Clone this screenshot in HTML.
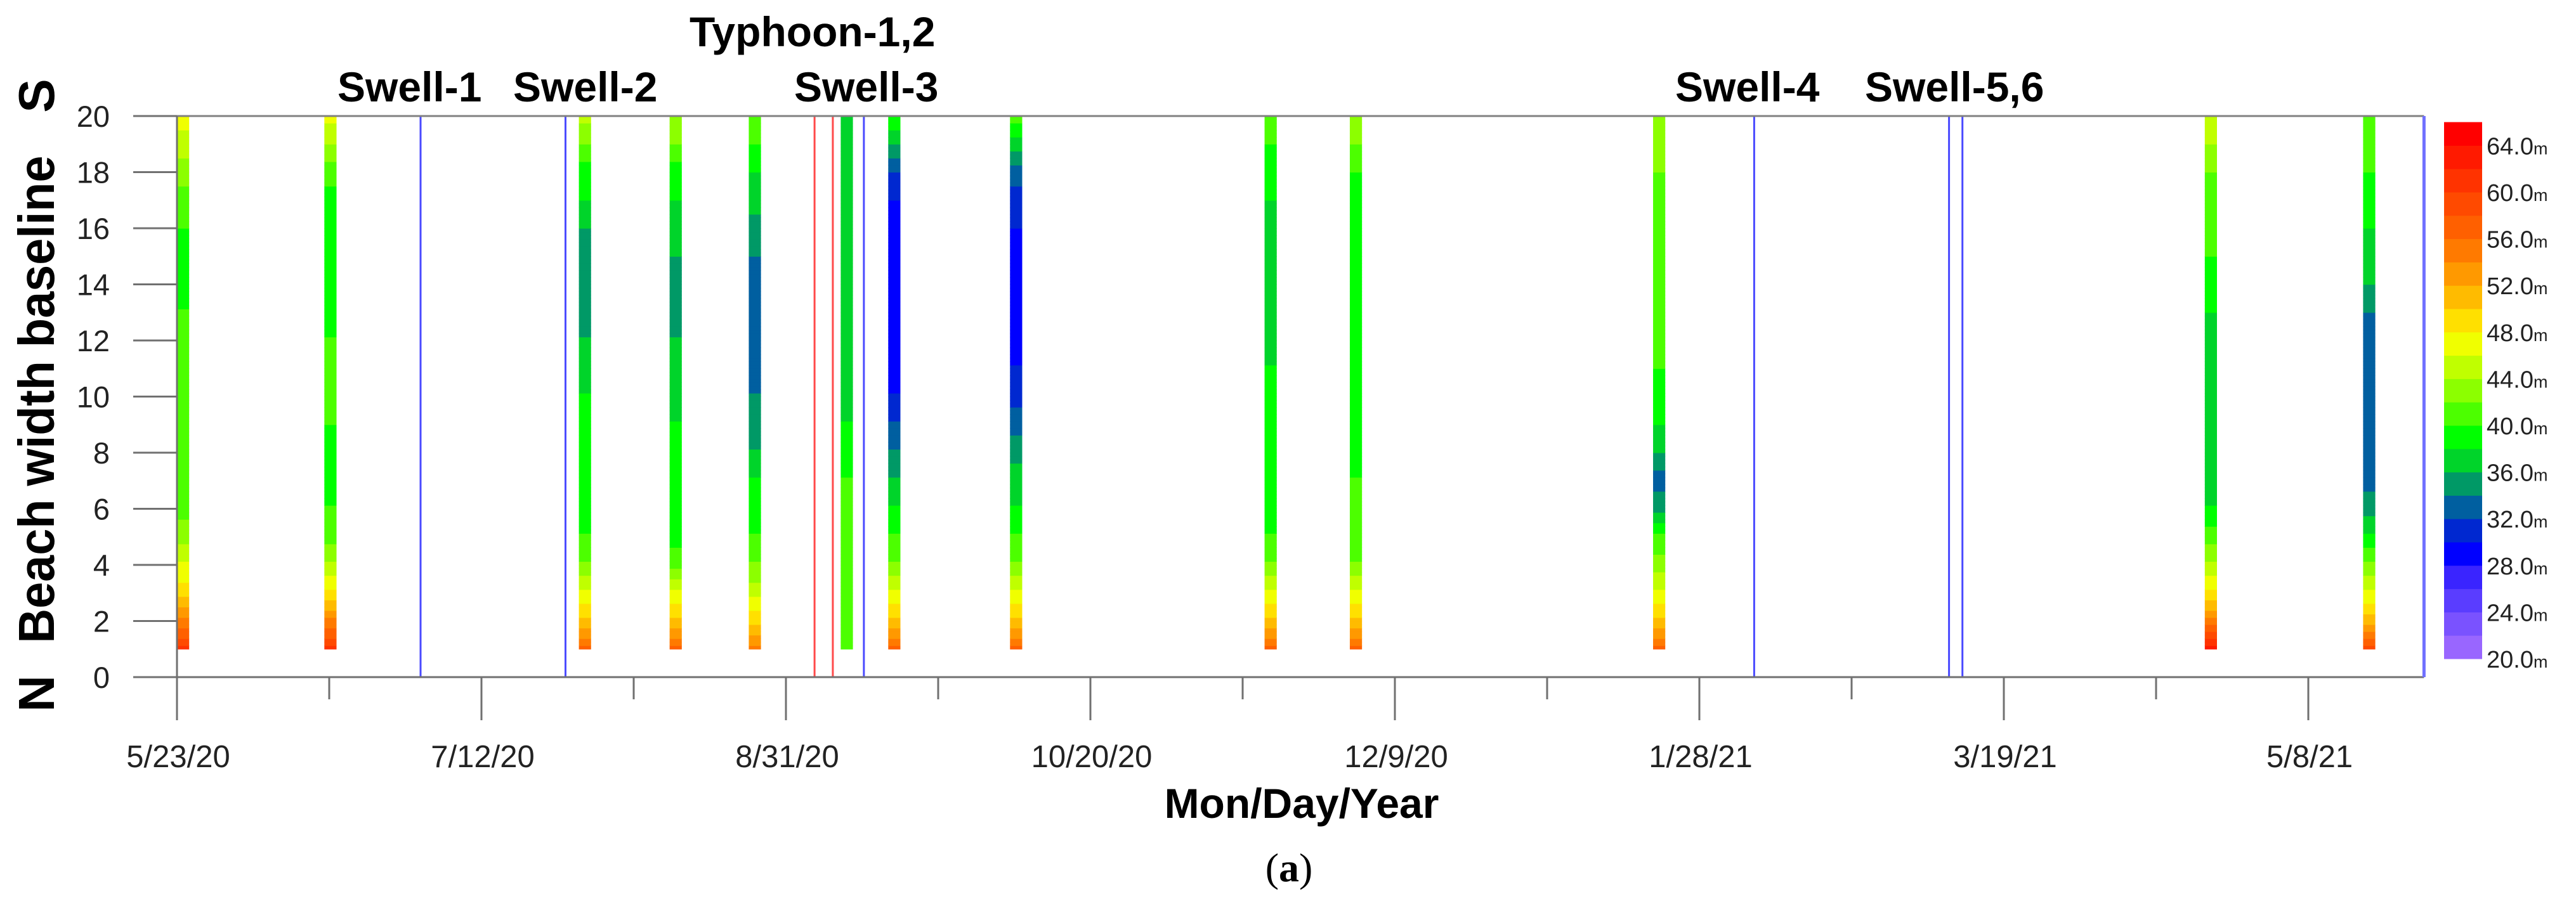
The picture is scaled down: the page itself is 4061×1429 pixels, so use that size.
<!DOCTYPE html>
<html><head><meta charset="utf-8"><style>
html,body{margin:0;padding:0;background:#fff;}
svg{display:block;font-family:"Liberation Sans",Arial,sans-serif;}
</style></head><body>
<svg id="chart" width="4061" height="1429" viewBox="0 0 4061 1429" xmlns="http://www.w3.org/2000/svg">
<g id="bars"></g>
<g id="events"></g>
<g id="axes"></g>
<g id="colorbar"></g>
<g id="labels"></g>
<text x="85" y="1094" transform="rotate(-90 85 1094)" text-anchor="middle" font-size="80" font-weight="bold">N</text>
<text x="85" y="630" transform="rotate(-90 85 630)" text-anchor="middle" font-size="80" font-weight="bold" textLength="769" lengthAdjust="spacingAndGlyphs">Beach width baseline</text>
<text x="85" y="151" transform="rotate(-90 85 151)" text-anchor="middle" font-size="80" font-weight="bold">S</text>
<text x="2052" y="1290" text-anchor="middle" font-size="66" font-weight="bold">Mon/Day/Year</text>
<text x="2032" y="1390" text-anchor="middle" font-size="64" font-family="Liberation Serif, serif">(<tspan font-weight="bold">a</tspan>)</text>
</svg>
<script>
// ---- data ----
const barDays = [0, 24.2, 66, 80.9, 93.9, 109, 116.8, 136.8, 178.6, 192.6, 242.4, 333, 359];
const barValues0 = [60,54,49,46,43,41,41,40,40,40,40,40,40,39,39,40,41,43,45,47];
const barValues1 = [60,54,48,44,41,40,39,39,40,40,40,40,38,38,38,38,39,41,44,47];
const barValues2 = [56,50,46,42,40,39,38,38,38,38,37,36,35,35,35,36,38,39,42,45];
const barValues3 = [56,50,46,41,39,38,38,38,38,37,37,36,35,35,36,37,38,39,42,44];
const barValues4 = [54,49,45,42,40,39,38,36,35,34,33,33,33,33,34,35,37,38,40,42];
const barValues5 = [40,40,40,40,40,40,40,39,38,37,37,37,37,37,37,37,37,37,37,37];
const barValues6 = [56,50,46,42,40,38,36,34,32,30,29,29,29,28,28,29,30,32,36,40];
const barValues7 = [56,50,46,42,40,38,37,35,33,31,30,29,29,29,29,30,31,33,37,41];
const barValues8 = [56,50,46,42,40,39,38,38,38,38,38,37,37,36,36,37,38,39,40,42];
const barValues9 = [56,50,46,42,41,40,40,39,39,38,38,38,38,38,38,38,38,40,42,44];
const barValues10 = [56,50,46,43,40,35,33,36,38,39,40,40,40,40,41,41,41,42,43,44];
const barValues11 = [62,54,48,44,41,38,37,36,36,36,37,37,38,39,40,40,41,42,44,46];
const barValues12 = [58,51,46,42,38,35,33,33,33,33,33,33,34,36,37,38,39,40,41,42];
const barSeries = [barValues0,barValues1,barValues2,barValues3,barValues4,barValues5,barValues6,barValues7,barValues8,barValues9,barValues10,barValues11,barValues12];
const blueEventDays = [40, 63.8, 112.8, 259, 291, 293.2];
const redEventDays = [104.7, 107.7];
const xTickLabels = ["5/23/20","7/12/20","8/31/20","10/20/20","12/9/20","1/28/21","3/19/21","5/8/21"];
const xTickDays = [0,50,100,150,200,250,300,350];
const minorTickDays = [25,75,125,175,225,275,325];
const yTicks = [0,2,4,6,8,10,12,14,16,18,20];
const legendLabels = [64,60,56,52,48,44,40,36,32,28,24,20];
const eventNames = ["Swell-1","Swell-2","Typhoon-1,2","Swell-3","Swell-4","Swell-5,6"];
const eventLabelX = [532,809,1087,1252,2641,2940];
const eventLabelRow = [1,1,0,1,1,1];

// ---- scales ----
const X0=279, PXD=9.6, Y0=1068, PXY=44.25, XMAXDAY=369;
const xs = d => X0 + d*PXD;
const ys = v => Y0 - v*PXY;
const bandColors = ["#9966ff","#7a52ff","#5a3dff","#3a24ff","#0000ff","#0028d0","#005fa0","#009966","#00d42a","#00ff00","#4cff00","#8cff00","#c0ff00","#f0ff00","#ffe000","#ffbb00","#ff9900","#ff7a00","#ff6000","#ff4a00","#ff3300","#ff1a00","#ff0000"];
function colorOf(v){let i=Math.floor((v-20)/2);if(i<0)i=0;if(i>22)i=22;return bandColors[i];}
const NS="http://www.w3.org/2000/svg";
function mk(tag,attrs,parent){const e=document.createElementNS(NS,tag);for(const k in attrs)e.setAttribute(k,attrs[k]);parent.appendChild(e);return e;}

// bars
const gb=document.getElementById('bars');
barSeries.forEach((vals,bi)=>{
  const g=mk('g',{},gb);
  
  
  const x=xs(barDays[bi]), w=2*PXD;
  const steps=8;
  for(let k=0;k<vals.length-1;k++){
    for(let s=0;s<steps;s++){
      const t=s/steps;
      const v=vals[k]+(vals[k+1]-vals[k])*t;
      const y1=ys(k+1+t), y2=ys(k+1+t+1/steps);
      const r=mk('rect',{x:x,y:y2,width:w,height:(y1-y2)+0.6,fill:colorOf(v)},g);
      
      
    }
  }
});

// event lines
const ge=document.getElementById('events');
blueEventDays.forEach(d=>{
  const l=mk('line',{x1:xs(d),x2:xs(d),y1:ys(20),y2:ys(0),stroke:'#4a4aff','stroke-width':3},ge);
  
  
});
redEventDays.forEach(d=>{
  const l=mk('line',{x1:xs(d),x2:xs(d),y1:ys(20),y2:ys(0),stroke:'#ff4a4a','stroke-width':3},ge);
  
  
});

// axes
const ga=document.getElementById('axes');
const frameTop=mk('line',{x1:xs(0),x2:xs(XMAXDAY),y1:ys(20),y2:ys(20),stroke:'#808080','stroke-width':3},ga);


const frameBot=mk('line',{x1:210,x2:xs(XMAXDAY),y1:ys(0),y2:ys(0),stroke:'#707070','stroke-width':3},ga);


const frameLeft=mk('line',{x1:xs(0),x2:xs(0),y1:ys(20),y2:1136,stroke:'#707070','stroke-width':3},ga);


const frameRight=mk('line',{x1:xs(XMAXDAY),x2:xs(XMAXDAY),y1:ys(20),y2:ys(0),stroke:'#7070ff','stroke-width':5},ga);


yTicks.forEach(v=>{
  const t=mk('line',{x1:210,x2:xs(0),y1:ys(v),y2:ys(v),stroke:'#707070','stroke-width':3},ga);
  
  
  const tx=mk('text',{x:173,y:ys(v)+17,'text-anchor':'end','font-size':47,fill:'#222'},ga);
  tx.textContent=v;
  
  
});
xTickDays.forEach((d,i)=>{
  const t=mk('line',{x1:xs(d),x2:xs(d),y1:ys(0),y2:1136,stroke:'#707070','stroke-width':3},ga);
  
  
  const tx=mk('text',{x:xs(d)+2,y:1210,'text-anchor':'middle','font-size':49,fill:'#222'},ga);
  tx.textContent=xTickLabels[i];
  
  
});
minorTickDays.forEach(d=>{
  const t=mk('line',{x1:xs(d),x2:xs(d),y1:ys(0),y2:1103,stroke:'#707070','stroke-width':3},ga);
  
  
});

// colorbar
const gc=document.getElementById('colorbar');
const CB_X=3853, CB_W=60, CB_BOT=1039, CB_H=36.8;
bandColors.forEach((c,i)=>{
  const r=mk('rect',{x:CB_X,y:CB_BOT-(i+1)*CB_H,width:CB_W,height:CB_H+0.5,fill:c},gc);
  
  
});
legendLabels.forEach(v=>{
  const y=CB_BOT-(v-20)/2*CB_H;
  const tx=mk('text',{x:3920,y:y+14,'font-size':38,fill:'#222'},gc);
  tx.textContent=v.toFixed(1);
  const m=mk('tspan',{'font-size':27},tx);
  m.textContent='m';
  
  
});

// event labels
const gl=document.getElementById('labels');
eventNames.forEach((n,i)=>{
  const tx=mk('text',{x:eventLabelX[i],y:eventLabelRow[i]?160:73,'font-size':66,'font-weight':'bold'},gl);
  tx.textContent=n;
  
  
});
</script>
</body></html>
